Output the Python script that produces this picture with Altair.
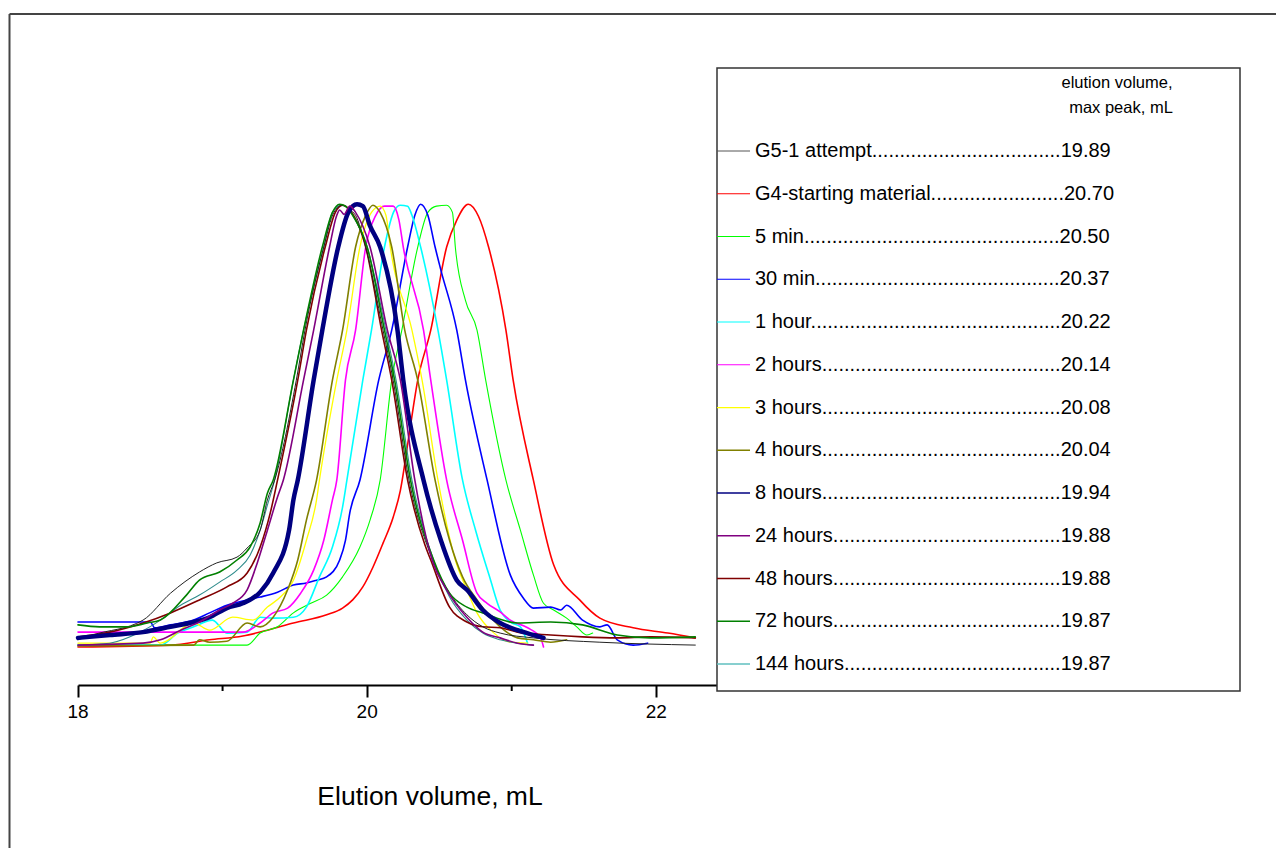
import altair as alt
import pandas as pd

FONT = "Liberation Sans"

NAMES = ["G5-1 attempt", "G4-starting material", "5 min", "30 min", "1 hour",
         "2 hours", "3 hours", "4 hours", "8 hours", "24 hours", "48 hours",
         "72 hours", "144 hours"]
PEAK_LABELS = ["19.89", "20.70", "20.50", "20.37", "20.22", "20.14", "20.08",
               "20.04", "19.94", "19.88", "19.88", "19.87", "19.87"]
DOTS = [34, 24, 46, 44, 45, 43, 43, 43, 43, 41, 41, 41, 39]
COLORS = ["#222222", "#FF0000", "#00FF00", "#0000FF", "#00FFFF", "#FF00FF",
          "#FFFF00", "#808000", "#000080", "#800080", "#800000", "#008000", "#2E8B8B"]
LEG_COLORS = ["#555555", "#FF0000", "#00FF00", "#0000FF", "#00FFFF", "#FF00FF",
              "#FFFF00", "#808000", "#000080", "#800080", "#800000", "#008000", "#5FBFBF"]
WIDTHS = [1, 1.6, 1.1, 1.6, 1.6, 1.6, 1.3, 1.6, 4.5, 1.6, 1.6, 1.6, 1.1]
LEG_WIDTHS = [1, 1.5, 1, 1.5, 1.5, 1.5, 1.5, 1.5, 5, 1.5, 1.5, 1.5, 1.5]

X_TICKS = [18, 20, 22]
X_TICK_LABELS = ["18", "20", "22"]
X_MINOR = [19, 21]

# (elution volume mL, normalized signal)
G5_1 = [(18.00, 0.094), (18.10, 0.104), (18.45, 0.135), (18.64, 0.191), (18.84, 0.235),
        (18.96, 0.254), (19.10, 0.266), (19.17, 0.285), (19.26, 0.322), (19.31, 0.385),
        (19.36, 0.426), (19.51, 0.634), (19.57, 0.738), (19.70, 0.911), (19.77, 0.983),
        (19.83, 0.998), (19.88, 0.988), (19.92, 0.977), (19.99, 0.911), (20.11, 0.738),
        (20.18, 0.634), (20.29, 0.426), (20.44, 0.270), (20.57, 0.191), (20.69, 0.146),
        (20.80, 0.121), (20.92, 0.108), (21.15, 0.098), (21.61, 0.089), (22.27, 0.083)]
G4 = [(18.00, 0.079), (18.64, 0.083), (18.91, 0.094), (19.14, 0.102), (19.31, 0.114),
      (19.49, 0.129), (19.72, 0.146), (19.83, 0.160), (19.90, 0.177), (19.97, 0.204),
      (20.04, 0.245), (20.11, 0.295), (20.18, 0.349), (20.23, 0.405), (20.29, 0.520),
      (20.35, 0.634), (20.44, 0.738), (20.55, 0.911), (20.62, 0.967), (20.70, 1.000),
      (20.77, 0.975), (20.84, 0.911), (20.96, 0.738), (21.01, 0.634), (21.15, 0.426),
      (21.29, 0.250), (21.47, 0.177), (21.61, 0.139), (21.84, 0.119), (22.08, 0.108),
      (22.27, 0.098)]
MIN5 = [(18.00, 0.083), (19.17, 0.083), (19.26, 0.108), (19.38, 0.121), (19.49, 0.150),
        (19.61, 0.170), (19.72, 0.187), (19.83, 0.225), (19.95, 0.287), (20.02, 0.343),
        (20.09, 0.426), (20.17, 0.634), (20.24, 0.738), (20.35, 0.911), (20.42, 0.983),
        (20.48, 0.996), (20.55, 0.998), (20.59, 0.983), (20.61, 0.911), (20.68, 0.800),
        (20.76, 0.738), (20.82, 0.634), (20.96, 0.426), (21.06, 0.322), (21.15, 0.229),
        (21.22, 0.170), (21.29, 0.156), (21.38, 0.139), (21.45, 0.121), (21.52, 0.104),
        (21.56, 0.108)]
MIN30 = [(18.00, 0.131), (18.50, 0.131), (18.53, 0.119), (18.64, 0.125), (18.80, 0.135),
         (18.91, 0.150), (19.03, 0.166), (19.17, 0.177), (19.26, 0.183), (19.38, 0.193),
         (19.49, 0.208), (19.58, 0.212), (19.65, 0.218), (19.72, 0.225), (19.81, 0.260),
         (19.85, 0.301), (19.88, 0.358), (19.95, 0.426), (20.08, 0.634), (20.17, 0.738),
         (20.28, 0.911), (20.33, 0.977), (20.37, 1.000), (20.42, 0.977), (20.47, 0.911),
         (20.51, 0.863), (20.62, 0.738), (20.68, 0.634), (20.83, 0.426), (20.99, 0.229),
         (21.08, 0.181), (21.15, 0.160), (21.27, 0.162), (21.34, 0.156), (21.38, 0.166),
         (21.49, 0.135), (21.61, 0.121), (21.66, 0.125), (21.73, 0.094), (21.84, 0.083),
         (21.94, 0.087)]
H1 = [(18.00, 0.083), (18.57, 0.083), (18.69, 0.108), (18.80, 0.121), (18.93, 0.135),
      (19.03, 0.108), (19.17, 0.110), (19.26, 0.141), (19.35, 0.139), (19.49, 0.141),
      (19.58, 0.162), (19.67, 0.225), (19.76, 0.287), (19.83, 0.370), (19.86, 0.426),
      (19.97, 0.634), (20.03, 0.738), (20.12, 0.911), (20.19, 0.988), (20.23, 0.998),
      (20.28, 0.996), (20.31, 0.977), (20.37, 0.911), (20.49, 0.738), (20.55, 0.634),
      (20.66, 0.426), (20.75, 0.322), (20.85, 0.222), (20.92, 0.156), (20.99, 0.131),
      (21.06, 0.121), (21.11, 0.087)]
H2 = [(18.00, 0.110), (19.14, 0.110), (19.26, 0.129), (19.35, 0.150), (19.45, 0.160),
      (19.54, 0.191), (19.63, 0.239), (19.70, 0.301), (19.76, 0.385), (19.79, 0.426),
      (19.85, 0.634), (19.92, 0.738), (19.99, 0.911), (20.06, 0.977), (20.12, 0.996),
      (20.18, 0.996), (20.22, 0.967), (20.25, 0.911), (20.39, 0.738), (20.44, 0.634),
      (20.55, 0.426), (20.66, 0.301), (20.76, 0.191), (20.83, 0.170), (20.92, 0.152),
      (20.99, 0.135), (21.11, 0.119), (21.20, 0.098), (21.22, 0.079)]
H3 = [(18.00, 0.087), (18.50, 0.087), (18.52, 0.100), (18.57, 0.087), (18.80, 0.129),
      (18.91, 0.114), (19.07, 0.141), (19.21, 0.135), (19.31, 0.162), (19.40, 0.183),
      (19.49, 0.218), (19.58, 0.301), (19.65, 0.385), (19.67, 0.426), (19.79, 0.634),
      (19.86, 0.738), (19.95, 0.911), (20.03, 0.983), (20.09, 0.996), (20.13, 0.977),
      (20.16, 0.911), (20.31, 0.738), (20.38, 0.634), (20.49, 0.426), (20.61, 0.260),
      (20.69, 0.198), (20.76, 0.150), (20.87, 0.110), (20.99, 0.089), (21.11, 0.087)]
H4 = [(18.00, 0.081), (18.80, 0.083), (18.84, 0.094), (18.91, 0.089), (19.03, 0.091),
      (19.17, 0.129), (19.26, 0.121), (19.35, 0.141), (19.45, 0.198), (19.52, 0.260),
      (19.58, 0.343), (19.65, 0.426), (19.76, 0.634), (19.83, 0.738), (19.92, 0.911),
      (19.99, 0.977), (20.04, 0.998), (20.09, 0.983), (20.17, 0.911), (20.26, 0.738),
      (20.35, 0.634), (20.47, 0.426), (20.57, 0.301), (20.66, 0.225), (20.76, 0.177),
      (20.92, 0.121), (21.04, 0.098), (21.15, 0.094), (21.27, 0.089), (21.38, 0.094)]
H8 = [(18.00, 0.098), (18.22, 0.104), (18.45, 0.110), (18.64, 0.121), (18.80, 0.131),
      (18.91, 0.141), (19.03, 0.160), (19.14, 0.170), (19.26, 0.193), (19.35, 0.233),
      (19.46, 0.322), (19.49, 0.385), (19.52, 0.426), (19.63, 0.634), (19.69, 0.738),
      (19.80, 0.911), (19.87, 0.983), (19.93, 1.000), (19.97, 0.996), (20.02, 0.955),
      (20.09, 0.911), (20.21, 0.738), (20.25, 0.634), (20.39, 0.426), (20.51, 0.301),
      (20.62, 0.218), (20.69, 0.198), (20.80, 0.156), (20.92, 0.129), (21.04, 0.114),
      (21.15, 0.104), (21.22, 0.098)]
H24 = [(18.00, 0.083), (18.45, 0.087), (18.57, 0.094), (18.71, 0.114), (18.84, 0.131),
       (18.98, 0.156), (19.07, 0.170), (19.17, 0.198), (19.24, 0.254), (19.31, 0.322),
       (19.38, 0.391), (19.42, 0.426), (19.56, 0.634), (19.63, 0.738), (19.74, 0.911),
       (19.79, 0.977), (19.81, 0.988), (19.84, 0.979), (19.88, 0.996), (19.92, 0.983),
       (20.02, 0.911), (20.14, 0.738), (20.23, 0.634), (20.33, 0.426), (20.45, 0.260),
       (20.55, 0.198), (20.69, 0.141), (20.80, 0.110), (20.92, 0.098), (21.04, 0.087),
       (21.15, 0.083)]
H48 = [(18.00, 0.100), (18.22, 0.110), (18.45, 0.129), (18.64, 0.150), (18.84, 0.177),
       (19.03, 0.204), (19.17, 0.233), (19.26, 0.287), (19.33, 0.358), (19.38, 0.426),
       (19.52, 0.634), (19.58, 0.738), (19.71, 0.911), (19.78, 0.983), (19.83, 0.998),
       (19.88, 0.988), (19.99, 0.911), (20.10, 0.738), (20.17, 0.634), (20.28, 0.426),
       (20.40, 0.291), (20.44, 0.260), (20.57, 0.162), (20.69, 0.131), (20.80, 0.121),
       (20.92, 0.119), (21.04, 0.110), (21.27, 0.104), (21.49, 0.100), (21.73, 0.098),
       (21.96, 0.100), (22.27, 0.098)]
H72 = [(18.00, 0.125), (18.15, 0.121), (18.34, 0.121), (18.48, 0.129), (18.57, 0.135),
       (18.75, 0.187), (18.84, 0.218), (18.98, 0.235), (19.10, 0.260), (19.19, 0.287),
       (19.26, 0.337), (19.31, 0.399), (19.35, 0.426), (19.49, 0.634), (19.56, 0.738),
       (19.69, 0.911), (19.76, 0.983), (19.81, 1.000), (19.85, 0.996), (19.90, 0.977),
       (20.00, 0.911), (20.12, 0.738), (20.19, 0.634), (20.30, 0.426), (20.46, 0.260),
       (20.57, 0.191), (20.69, 0.162), (20.80, 0.150), (21.04, 0.129), (21.27, 0.131),
       (21.49, 0.125), (21.73, 0.104), (21.96, 0.098), (22.27, 0.100)]
H144 = [(18.00, 0.083), (18.22, 0.087), (18.43, 0.110), (18.57, 0.135), (18.71, 0.166),
        (18.84, 0.187), (18.98, 0.214), (19.10, 0.239), (19.19, 0.270), (19.26, 0.322),
        (19.31, 0.374), (19.36, 0.426), (19.49, 0.634), (19.56, 0.738), (19.70, 0.911),
        (19.76, 0.983), (19.82, 0.998), (19.87, 0.992), (19.90, 0.977), (20.00, 0.911),
        (20.13, 0.738), (20.20, 0.634), (20.31, 0.426), (20.47, 0.250), (20.57, 0.183),
        (20.69, 0.135), (20.80, 0.108), (20.92, 0.094), (21.04, 0.087), (21.15, 0.083)]

CURVES = [G5_1, G4, MIN5, MIN30, H1, H2, H3, H4, H8, H24, H48, H72, H144]
DRAW_ORDER = ["G4-starting material", "5 min", "30 min", "1 hour", "2 hours", "3 hours",
              "4 hours", "144 hours", "48 hours", "G5-1 attempt", "72 hours", "8 hours",
              "24 hours"]

W, H = 639, 625
XS = alt.Scale(domain=[18, 22.42], nice=False, zero=False)
YS = alt.Scale(domain=[0, 1.3], nice=False, zero=False)
X_AXIS = alt.Axis(values=X_TICKS, title=None, grid=False, labels=False,
                  domain=True, domainColor="black", domainWidth=2,
                  ticks=True, tickColor="black", tickWidth=2, tickSize=12)

rows = []
for name, pts in zip(NAMES, CURVES):
    for k, (v, s) in enumerate(pts):
        rows.append({"series": name, "volume": v, "signal": s, "k": k})
df = pd.DataFrame(rows)

one = pd.DataFrame({"a": [0]})
layers = []

# outer frame
layers.append(alt.Chart(one).mark_rule(color="#444444", strokeWidth=2).encode(
    x=alt.value(-68.5), x2=alt.value(1200), y=alt.value(-46)))
layers.append(alt.Chart(one).mark_rule(color="#444444", strokeWidth=2).encode(
    x=alt.value(-68.5), y=alt.value(-46), y2=alt.value(790)))

# minor ticks
layers.append(alt.Chart(pd.DataFrame({"volume": X_MINOR})).mark_rule(
    color="black", strokeWidth=2).encode(
    x=alt.X("volume:Q", scale=XS, axis=X_AXIS),
    y=alt.value(H), y2=alt.value(H + 6)))

# tick labels
layers.append(alt.Chart(pd.DataFrame({"volume": X_TICKS, "lab": X_TICK_LABELS})).mark_text(
    font=FONT, fontSize=19, color="black", align="center", baseline="middle").encode(
    x=alt.X("volume:Q", scale=XS, axis=X_AXIS),
    y=alt.value(H + 27), text="lab:N"))

for name in DRAW_ORDER:
    i = NAMES.index(name)
    layers.append(
        alt.Chart(df[df.series == name]).mark_line(
            color=COLORS[i], strokeWidth=WIDTHS[i], interpolate="monotone",
            strokeJoin="round", strokeCap="round").encode(
            x=alt.X("volume:Q", scale=XS, axis=X_AXIS),
            y=alt.Y("signal:Q", scale=YS, axis=None),
            order="k:Q"))

# axis title
layers.append(alt.Chart(one).mark_text(
    font=FONT, fontSize=26.5, color="black", align="center", baseline="middle").encode(
    x=alt.value(352), y=alt.value(737), text=alt.value("Elution volume, mL")))

# legend box
layers.append(alt.Chart(one).mark_rect(fill="white", stroke="#333333", strokeWidth=1.5).encode(
    x=alt.value(639), x2=alt.value(1162), y=alt.value(8), y2=alt.value(631)))

leg = pd.DataFrame({
    "series": NAMES,
    "label": [n + "." * d + p for n, d, p in zip(NAMES, DOTS, PEAK_LABELS)],
})
LEG_Y = alt.Y("series:N", sort=NAMES,
              scale=alt.Scale(type="point", domain=NAMES, range=[91, 604], padding=0),
              axis=None)
layers.append(alt.Chart(leg).mark_rule().encode(
    x=alt.value(639), x2=alt.value(672), y=LEG_Y,
    color=alt.Color("series:N", scale=alt.Scale(domain=NAMES, range=LEG_COLORS), legend=None),
    strokeWidth=alt.StrokeWidth("series:N", scale=alt.Scale(domain=NAMES, range=LEG_WIDTHS),
                                legend=None)))
layers.append(alt.Chart(leg).mark_text(
    font=FONT, fontSize=20, color="black", align="left", baseline="middle").encode(
    x=alt.value(677), y=LEG_Y, text="label:N"))

layers.append(alt.Chart(one).mark_text(
    font=FONT, fontSize=16.5, color="black", align="center", baseline="middle").encode(
    x=alt.value(1039), y=alt.value(23), text=alt.value("elution volume,")))
layers.append(alt.Chart(one).mark_text(
    font=FONT, fontSize=16.5, color="black", align="center", baseline="middle").encode(
    x=alt.value(1043), y=alt.value(48), text=alt.value("max peak, mL")))

chart = alt.layer(*layers).resolve_scale(
    y="independent", color="independent", strokeWidth="independent"
).properties(
    width=W, height=H,
    autosize=alt.AutoSizeParams(type="none"),
    padding={"left": 70, "top": 52, "right": 559, "bottom": 163},
    background="white",
).configure_view(stroke=None)

chart.save("out.html", embed_options={"renderer": "svg", "actions": False})
